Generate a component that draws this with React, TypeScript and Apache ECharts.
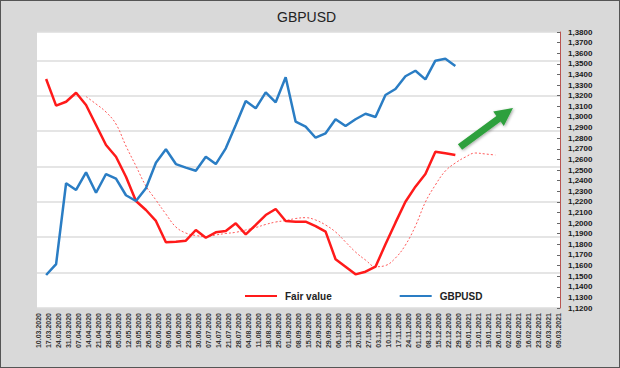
import React, { useEffect, useRef } from "react";
import * as echarts from "echarts";

const chartTitle = "GBPUSD";

const tickLabels = [
  "10.03.2020", "17.03.2020", "24.03.2020", "31.03.2020", "07.04.2020", "14.04.2020",
  "21.04.2020", "28.04.2020", "05.05.2020", "12.05.2020", "19.05.2020", "26.05.2020",
  "02.06.2020", "09.06.2020", "16.06.2020", "23.06.2020", "30.06.2020", "07.07.2020",
  "14.07.2020", "21.07.2020", "28.07.2020", "04.08.2020", "11.08.2020", "18.08.2020",
  "25.08.2020", "01.09.2020", "08.09.2020", "15.09.2020", "22.09.2020", "29.09.2020",
  "06.10.2020", "13.10.2020", "20.10.2020", "27.10.2020", "03.11.2020", "10.11.2020",
  "17.11.2020", "24.11.2020", "01.12.2020", "08.12.2020", "15.12.2020", "22.12.2020",
  "29.12.2020", "05.01.2021", "12.01.2021", "19.01.2021", "26.01.2021", "02.02.2021",
  "09.02.2021", "16.02.2021", "23.02.2021", "02.03.2021", "09.03.2021",
];

const pointDates = [
  "15.03.2020", "22.03.2020", "29.03.2020", "05.04.2020", "12.04.2020", "19.04.2020",
  "26.04.2020", "03.05.2020", "10.05.2020", "17.05.2020", "24.05.2020", "31.05.2020",
  "07.06.2020", "14.06.2020", "21.06.2020", "28.06.2020", "05.07.2020", "12.07.2020",
  "19.07.2020", "26.07.2020", "02.08.2020", "09.08.2020", "16.08.2020", "23.08.2020",
  "30.08.2020", "06.09.2020", "13.09.2020", "20.09.2020", "27.09.2020", "04.10.2020",
  "11.10.2020", "18.10.2020", "25.10.2020", "01.11.2020", "08.11.2020", "15.11.2020",
  "22.11.2020", "29.11.2020", "06.12.2020", "13.12.2020", "20.12.2020", "27.12.2020",
  "03.01.2021", "10.01.2021", "17.01.2021", "24.01.2021",
];

const gbpusdValues = [
  1.1511, 1.1614, 1.2375, 1.2312, 1.2478, 1.2286, 1.2462, 1.2418, 1.2262, 1.2208,
  1.2328, 1.2569, 1.2695, 1.2556, 1.2522, 1.2493, 1.2625, 1.2556, 1.2704, 1.2924,
  1.3150, 1.3081, 1.3232, 1.3138, 1.3373, 1.2955, 1.2908, 1.2804, 1.2846, 1.2978,
  1.2914, 1.2978, 1.3030, 1.2999, 1.3206, 1.3263, 1.3383, 1.3435, 1.3354, 1.3530,
  1.3548, 1.3480,
];

const fairValues = [
  1.3357, 1.3106, 1.3143, 1.3228, 1.3112, 1.2924, 1.2735, 1.2625, 1.2437, 1.2208,
  1.2123, 1.2020, 1.1819, 1.1825, 1.1834, 1.1935, 1.1862, 1.1913, 1.1925, 1.1998,
  1.1894, 1.1982, 1.2076, 1.2133, 1.2020, 1.2013, 1.2013, 1.1972, 1.1919, 1.1659,
  1.1589, 1.1517, 1.1542, 1.1589, 1.1800, 1.2004, 1.2201, 1.2343, 1.2462, 1.2672,
  1.2657, 1.2641,
];

// smoothed fair value trend, starts at the 5th point date
const trendStartIndex = 4;
const trendValues = [
  1.3192, 1.3122, 1.3046, 1.2933, 1.2726, 1.2538, 1.2349, 1.2217, 1.2085, 1.1963,
  1.1906, 1.1883, 1.1873, 1.1888, 1.1902, 1.1913, 1.1935, 1.1958, 1.1987, 1.2010,
  1.2024, 1.2043, 1.2051, 1.2029, 1.1982, 1.1916, 1.1822, 1.1727, 1.1652, 1.1589,
  1.1600, 1.1671, 1.1793, 1.1972, 1.2198, 1.2359, 1.2491, 1.2566, 1.2622, 1.2660,
  1.2651, 1.2641,
];

const yMin = 1.12;
const yMax = 1.38;
const yStep = 0.01;

const dayIndex = (s: string) => {
  const [d, m, y] = s.split(".").map(Number);
  const base = Date.UTC(2020, 2, 10);
  return Math.round((Date.UTC(y, m - 1, d) - base) / 86400000);
};

const tickDays = tickLabels.map(dayIndex);

export default function App() {
  const ref = useRef<HTMLDivElement>(null);
  useEffect(() => {
    if (!ref.current) return;
    const chart = echarts.init(ref.current, null, { renderer: "svg" });
    const font = "Liberation Sans, Arial, sans-serif";
    const labelMap: Record<number, string> = {};
    tickDays.forEach((d, i) => (labelMap[d] = tickLabels[i]));
    chart.setOption({
      animation: false,
      backgroundColor: "#d9d9d9",
      title: {
        text: chartTitle,
        left: 271,
        top: 4,
        textStyle: { fontSize: 14, fontWeight: "normal", color: "#222", fontFamily: font },
      },
      legend: {
        left: 239,
        top: 285,
        itemWidth: 32,
        itemHeight: 2,
        itemGap: 68,
        icon: "rect",
        data: ["Fair value", "GBPUSD"],
        textStyle: { fontSize: 10, fontWeight: "bold", color: "#222", fontFamily: font, padding: [0, 0, 0, 3] },
      },
      grid: {
        left: 36,
        right: 59,
        top: 31,
        bottom: 59,
        show: true,
        backgroundColor: "#ffffff",
        borderWidth: 0,
      },
      xAxis: {
        type: "value",
        min: -1.4,
        max: 365.4,
        axisLine: { show: false },
        axisTick: { show: false },
        splitLine: { show: false },
        axisLabel: {
          customValues: tickDays,
          rotate: 90,
          margin: 5,
          fontSize: 7,
          fontWeight: "bold",
          color: "#333",
          fontFamily: font,
          formatter: (v: number) => labelMap[Math.round(v)] ?? "",
        },
      },
      yAxis: [
        {
          type: "value",
          position: "left",
          min: 0,
          max: 7.8,
          interval: 1,
          axisLine: { show: false },
          axisTick: { show: false },
          axisLabel: { show: false },
          splitLine: { show: true, lineStyle: { color: "#dcdcdc", width: 1.5 } },
        },
        {
          type: "value",
          position: "right",
          min: yMin,
          max: yMax,
          interval: yStep,
          axisLine: { show: true, lineStyle: { color: "#b85450", width: 1 } },
          axisTick: { show: true, inside: true, length: 3, lineStyle: { color: "#666" } },
          splitLine: { show: false },
          axisLabel: {
            margin: 8,
            fontSize: 8,
            fontWeight: "bold",
            color: "#1a1a1a",
            fontFamily: font,
            formatter: (v: number) => v.toFixed(4).replace(".", ","),
          },
        },
      ],
      series: [
        {
          name: "Fair value",
          type: "line",
          yAxisIndex: 1,
          showSymbol: false,
          symbol: "none",
          color: "#ff1a1a",
          lineStyle: { color: "#ff1a1a", width: 2.5 },
          data: fairValues.map((v, i) => [dayIndex(pointDates[i]), v]),
          z: 3,
        },
        {
          name: "GBPUSD",
          type: "line",
          yAxisIndex: 1,
          showSymbol: false,
          symbol: "none",
          color: "#2a7dc4",
          lineStyle: { color: "#2a7dc4", width: 2.5 },
          data: gbpusdValues.map((v, i) => [dayIndex(pointDates[i]), v]),
          z: 4,
        },
        {
          name: "Trend",
          type: "line",
          yAxisIndex: 1,
          showSymbol: false,
          symbol: "none",
          smooth: 0.4,
          color: "#ff5a5a",
          lineStyle: { color: "#ff5a5a", width: 1, type: [2, 2] },
          data: trendValues.map((v, i) => [dayIndex(pointDates[i + trendStartIndex]), v]),
          z: 2,
        },
      ],
      graphic: [
        {
          type: "polygon",
          shape: {
            points: [
              [456.9, 143.2], [495.4, 114.9], [492.2, 110.5], [512, 107],
              [502.8, 125], [499.6, 120.5], [461.1, 148.8],
            ],
          },
          style: { fill: "#2ea03c", shadowBlur: 3, shadowColor: "rgba(0,0,0,0.35)", shadowOffsetX: 1, shadowOffsetY: 1 },
          z: 10,
        },
      ],
    });
    return () => chart.dispose();
  }, []);
  return (
    <div
      style={{
        position: "fixed",
        left: 0,
        top: 0,
        width: 620,
        height: 368,
        boxSizing: "border-box",
        border: "1px solid #555",
        background: "#d9d9d9",
      }}
    >
      <div ref={ref} style={{ width: 618, height: 366 }} />
    </div>
  );
}
